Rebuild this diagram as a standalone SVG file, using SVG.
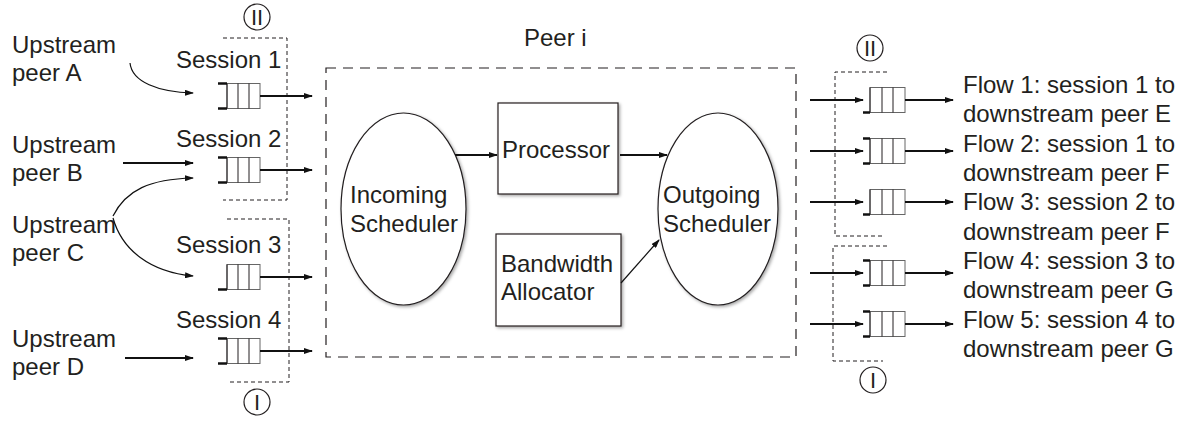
<svg xmlns="http://www.w3.org/2000/svg" width="1186" height="424" viewBox="0 0 1186 424">
<style>
.t{font-family:"Liberation Sans",Arial,sans-serif;font-size:24px;fill:#231f20}
.c{font-family:"Liberation Sans",Arial,sans-serif;font-size:22px;fill:#231f20;text-anchor:middle}
.sd{fill:none;stroke:#231f20;stroke-width:1;stroke-dasharray:4 3}
.bd{fill:none;stroke:#231f20;stroke-width:1.2;stroke-dasharray:10 7}
.qr{fill:#fff;stroke:#666;stroke-width:1}
.qd{stroke:#231f20;stroke-width:1}
.tk{stroke:#111;stroke-width:2.5}
.ar{fill:none;stroke:#111;stroke-width:2;marker-end:url(#ah)}
.ac{fill:none;stroke:#111;stroke-width:1.2;marker-end:url(#ah)}
.nd{fill:#fff;stroke:#231f20;stroke-width:1.2;filter:url(#sh)}
.ci{fill:#fff;stroke:#231f20;stroke-width:1.2}
</style>
<defs>
<marker id="ah" markerUnits="userSpaceOnUse" markerWidth="9" markerHeight="6" refX="8" refY="3" orient="auto"><path d="M0,0 L9,3 L0,6 z" fill="#111"/></marker>
<filter id="sh" x="-20%" y="-20%" width="140%" height="140%"><feDropShadow dx="1.5" dy="1.5" stdDeviation="1.5" flood-color="#000" flood-opacity="0.35"/></filter>
<g id="ql">
<rect class="qr" x="9" y="-12.5" width="33" height="25"/>
<line class="qd" x1="9" y1="-12.5" x2="9" y2="12.5"/>
<line class="qd" x1="20" y1="-12.5" x2="20" y2="12.5"/>
<line class="qd" x1="31" y1="-12.5" x2="31" y2="12.5"/>
</g>
<g id="qrt">
<rect class="qr" x="7" y="-12.5" width="35" height="25"/>
<line class="qd" x1="7" y1="-12.5" x2="7" y2="12.5"/>
<line class="qd" x1="19" y1="-12.5" x2="19" y2="12.5"/>
<line class="qd" x1="30" y1="-12.5" x2="30" y2="12.5"/>
</g>
</defs>
<rect width="1186" height="424" fill="#fff"/>

<g id="peer-i">
<rect class="bd" x="326" y="68" width="470" height="289"/>
<text class="t" x="524" y="46">Peer i</text>
</g>

<g id="group-II-left">
<polyline class="sd" points="223,38 287,38 287,200 223,200"/>
<circle class="ci" cx="257" cy="17" r="13"/>
<text class="c" x="257" y="25">II</text>
</g>
<g id="group-I-left">
<polyline class="sd" points="227,219 289,219 289,382 227,382"/>
<circle class="ci" cx="257" cy="402" r="13"/>
<text class="c" x="257" y="410">I</text>
</g>
<g id="group-II-right">
<polyline class="sd" points="887,72 835,72 835,236 885,236"/>
<circle class="ci" cx="870" cy="48" r="13"/>
<text class="c" x="870" y="56">II</text>
</g>
<g id="group-I-right">
<polyline class="sd" points="887,246 833,246 833,361 883,361"/>
<circle class="ci" cx="873" cy="380" r="13"/>
<text class="c" x="873" y="388">I</text>
</g>

<g id="upstream-A"><text class="t" x="12" y="53">Upstream</text><text class="t" x="12" y="81">peer A</text></g>
<g id="upstream-B"><text class="t" x="12" y="153">Upstream</text><text class="t" x="12" y="181">peer B</text></g>
<g id="upstream-C"><text class="t" x="12" y="233">Upstream</text><text class="t" x="12" y="261">peer C</text></g>
<g id="upstream-D"><text class="t" x="12" y="347">Upstream</text><text class="t" x="12" y="375">peer D</text></g>

<g id="session-1"><text class="t" x="176" y="68">Session 1</text><use href="#ql" x="218" y="96"/><line class="tk" x1="218" y1="83.5" x2="227" y2="83.5"/><line class="tk" x1="218" y1="108.5" x2="227" y2="108.5"/></g>
<g id="session-2"><text class="t" x="176" y="147">Session 2</text><use href="#ql" x="218" y="170"/><line class="tk" x1="218" y1="157.5" x2="227" y2="157.5"/><line class="tk" x1="218" y1="182.5" x2="227" y2="182.5"/></g>
<g id="session-3"><text class="t" x="176" y="253">Session 3</text><use href="#ql" x="218" y="277"/><line class="tk" x1="218" y1="289.5" x2="227" y2="289.5"/></g>
<g id="session-4"><text class="t" x="176" y="328">Session 4</text><use href="#ql" x="218" y="351"/><line class="tk" x1="218" y1="338.5" x2="227" y2="338.5"/><line class="tk" x1="218" y1="363.5" x2="227" y2="363.5"/></g>

<g id="incoming-scheduler">
<ellipse class="nd" cx="403.5" cy="209" rx="62.5" ry="96"/>
<text class="t" x="350" y="203">Incoming</text><text class="t" x="350" y="232">Scheduler</text>
</g>
<g id="processor">
<rect class="nd" x="498" y="103" width="120" height="91"/>
<text class="t" x="502" y="158">Processor</text>
</g>
<g id="bandwidth-allocator">
<rect class="nd" x="496" y="234" width="125" height="92"/>
<text class="t" x="501" y="272">Bandwidth</text><text class="t" x="501" y="300">Allocator</text>
</g>
<g id="outgoing-scheduler">
<ellipse class="nd" cx="718" cy="209" rx="60" ry="96"/>
<text class="t" x="663" y="203">Outgoing</text><text class="t" x="663" y="232">Scheduler</text>
</g>

<g id="flow-1"><use href="#qrt" x="863" y="100"/><line class="tk" x1="863" y1="112.5" x2="870" y2="112.5"/><text class="t" x="963" y="93">Flow 1: session 1 to</text><text class="t" x="963" y="122">downstream peer E</text></g>
<g id="flow-2"><use href="#qrt" x="863" y="151"/><line class="tk" x1="863" y1="138.5" x2="870" y2="138.5"/><line class="tk" x1="863" y1="163.5" x2="870" y2="163.5"/><text class="t" x="963" y="152">Flow 2: session 1 to</text><text class="t" x="963" y="181">downstream peer F</text></g>
<g id="flow-3"><use href="#qrt" x="863" y="202"/><line class="tk" x1="863" y1="214.5" x2="870" y2="214.5"/><text class="t" x="963" y="210">Flow 3: session 2 to</text><text class="t" x="963" y="240">downstream peer F</text></g>
<g id="flow-4"><use href="#qrt" x="863" y="273"/><line class="tk" x1="863" y1="260.5" x2="870" y2="260.5"/><line class="tk" x1="863" y1="285.5" x2="870" y2="285.5"/><text class="t" x="963" y="269">Flow 4: session 3 to</text><text class="t" x="963" y="298">downstream peer G</text></g>
<g id="flow-5"><use href="#qrt" x="863" y="324"/><line class="tk" x1="863" y1="311.5" x2="870" y2="311.5"/><line class="tk" x1="863" y1="336.5" x2="870" y2="336.5"/><text class="t" x="963" y="328">Flow 5: session 4 to</text><text class="t" x="963" y="357">downstream peer G</text></g>

<g id="connectors">
<path class="ac" d="M130,63 C132,82 158,92 193,93"/>
<line class="ar" x1="123" y1="163" x2="193" y2="163"/>
<path class="ac" d="M113,216 C126,190 150,179 193,178"/>
<path class="ac" d="M113,218 C122,250 150,272 193,276"/>
<line class="ar" x1="125" y1="358" x2="193" y2="358"/>
<line class="ar" x1="260" y1="96" x2="312" y2="96"/>
<line class="ar" x1="260" y1="170" x2="312" y2="170"/>
<line class="ar" x1="260" y1="277" x2="312" y2="277"/>
<line class="ar" x1="260" y1="351" x2="312" y2="351"/>
<line class="ar" x1="455" y1="155" x2="497" y2="155"/>
<line class="ar" x1="620" y1="155" x2="667" y2="155"/>
<line class="ac" x1="621" y1="283" x2="659" y2="240"/>
<line class="ar" x1="810" y1="100" x2="863" y2="100"/>
<line class="ar" x1="810" y1="151" x2="863" y2="151"/>
<line class="ar" x1="810" y1="202" x2="863" y2="202"/>
<line class="ar" x1="810" y1="273" x2="863" y2="273"/>
<line class="ar" x1="810" y1="324" x2="863" y2="324"/>
<line class="ar" x1="905" y1="100" x2="953" y2="100"/>
<line class="ar" x1="905" y1="151" x2="953" y2="151"/>
<line class="ar" x1="905" y1="202" x2="953" y2="202"/>
<line class="ar" x1="905" y1="273" x2="953" y2="273"/>
<line class="ar" x1="905" y1="324" x2="953" y2="324"/>
</g>
</svg>
